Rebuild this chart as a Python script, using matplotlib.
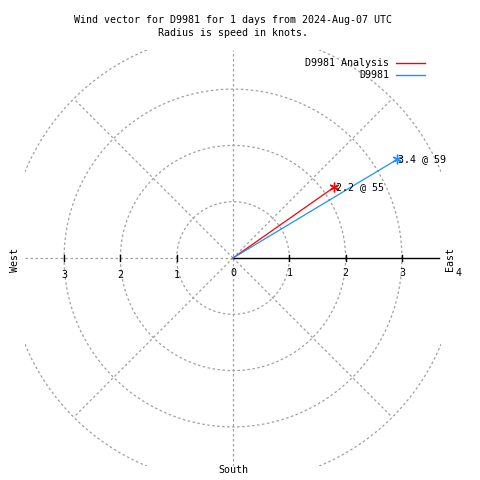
import numpy as np
import matplotlib
matplotlib.use("Agg")
import matplotlib.pyplot as plt
from matplotlib.lines import Line2D

# ---- data ----
series_names = ["D9981 Analysis", "D9981"]
series_colors = ["#ff0000", "#1e90ff"]
speeds = [2.2, 3.4]          # knots
directions = [55, 59]        # degrees (meteorological)
ring_radii = [1, 2, 3, 4]
tick_values = [1, 2, 3]
title_text = "Wind vector for D9981 for 1 days from 2024-Aug-07 UTC\nRadius is speed in knots."

# ---- layout ----
W = H = 480
scale = 56.3          # px per knot
cx, cy = 233, 258     # centre in px (from top-left)
L = 3.7
fig = plt.figure(figsize=(4.8, 4.8), dpi=100)
left = (cx - L * scale) / W
bottom = (H - (cy + L * scale)) / H
ax = fig.add_axes([left, bottom, 2 * L * scale / W, 2 * L * scale / H])
ax.set_xlim(-L, L)
ax.set_ylim(-L, L)
ax.axis("off")

font = "DejaVu Sans Mono"
fs = 7.2
grey = "#a0a0a0"
dash = (0, (2, 2))

# rings
for r in ring_radii[:-1]:
    t = np.linspace(0, 2 * np.pi, 400)
    ax.plot(r * np.cos(t), r * np.sin(t), color=grey, lw=0.9, ls=dash)
r = ring_radii[-1]
for k in range(4):
    t = np.radians(np.linspace(22.5 + 90 * k, 67.5 + 90 * k, 100))
    ax.plot(r * np.cos(t), r * np.sin(t), color=grey, lw=0.9, ls=dash)
# diagonals
for a in [45, 135, 225, 315]:
    ax.plot([0, r * np.cos(np.radians(a))], [0, r * np.sin(np.radians(a))],
            color=grey, lw=0.9, ls=dash)
# axes lines
ax.plot([-L, 0], [0, 0], color=grey, lw=0.9, ls=dash)
ax.plot([0, 0], [-L, L], color=grey, lw=0.9, ls=dash)
ax.plot([0, L * 0.99], [0, 0], color="black", lw=1.0)

# ticks
for v in tick_values:
    for s in (1, -1):
        ax.plot([s * v, s * v], [-0.06, 0.06], color="black", lw=1.0)
lab_y = -0.27
for v in [0] + tick_values + [4]:
    ax.text(v, lab_y, str(v), ha="center", va="center", fontsize=fs,
            family=font, clip_on=False)
for v in tick_values:
    ax.text(-v, lab_y - 0.03, str(v), ha="center", va="center", fontsize=fs,
            family=font, clip_on=False)

# direction labels
fig.text(450 / W, 1 - 259 / H, "East", rotation=90, ha="center", va="center",
         fontsize=fs, family=font)
fig.text(15 / W, 1 - 260 / H, "West", rotation=90, ha="center", va="center",
         fontsize=fs, family=font)
fig.text(233 / W, 1 - 470 / H, "South", ha="center", va="center",
         fontsize=fs, family=font)

# vectors
handles = []
for name, col, spd, d in zip(series_names, series_colors, speeds, directions):
    ang = np.radians(90 - d)
    x, y = spd * np.cos(ang), spd * np.sin(ang)
    ax.plot([0, x], [0, y], color=col, lw=0.9)
    ax.plot([x], [y], marker=(6, 2, 0), color=col, ms=7, mew=1.0)
    ax.text(x + 0.02, y, f"{spd} @ {d}", ha="left", va="center",
            fontsize=fs, family=font)
    handles.append(Line2D([], [], color=col, lw=1.0, label=name))

leg = ax.legend(handles=handles, loc="upper right",
                bbox_to_anchor=(430 / W, 1 - 53 / H),
                bbox_transform=fig.transFigure, frameon=False,
                markerfirst=False, borderpad=0, handlelength=2.9,
                handletextpad=0.7, labelspacing=0.25,
                prop={"family": font, "size": fs})

fig.text(233 / W, 1 - 15 / H, title_text, ha="center", va="top",
         fontsize=fs, family=font, linespacing=1.35)

fig.savefig("out.png", dpi=100)
